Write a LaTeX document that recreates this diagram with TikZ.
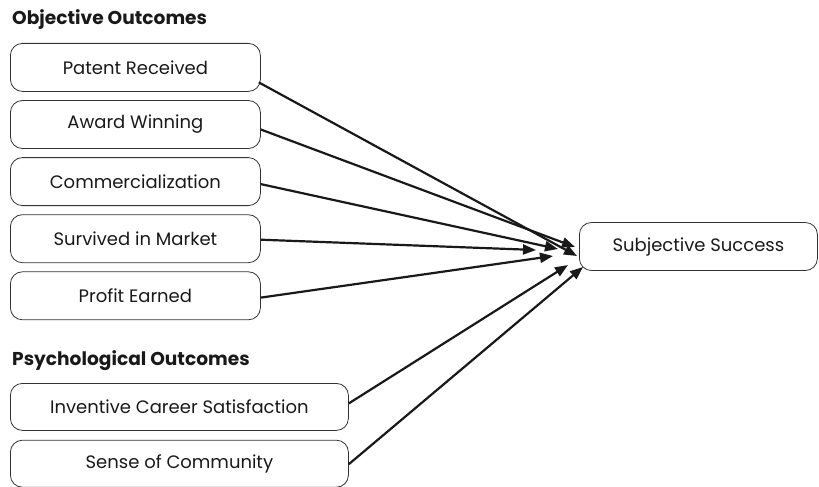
\documentclass[tikz,border=0pt]{standalone}
\usepackage{fontspec}
\setmainfont{Poppins}
\usepackage{tikz}
\usetikzlibrary{positioning, arrows.meta}

\begin{document}
\begin{tikzpicture}[
    node distance=8.3pt,
    outcome/.style={rectangle, rounded corners=12pt, draw=black!80, line width=0.8pt, minimum width=250pt, minimum height=48pt, inner sep=0pt, font=\fontsize{18}{20}\selectfont, text=black!90},
    wide_outcome/.style={outcome, minimum width=338pt, minimum height=47pt},
    target/.style={outcome, minimum width=238pt},
    heading/.style={font=\fontsize{18.6}{20}\selectfont\bfseries, inner sep=0pt, text=black!90},
    arrow_in/.style={-{Triangle[length=13pt, width=10pt]}, line width=2.2pt, color=black!90}
]
\useasboundingbox (0,0) rectangle (819pt,-487pt);

% objective outcomes
\node[heading, anchor=base west] (objhead) at (12pt,-25pt) {Objective Outcomes};
\node[outcome, anchor=north west] (patent) at (10pt,-43pt) {Patent Received};
\node[outcome, below=of patent] (award) {Award Winning};
\node[outcome, below=of award] (comm) {Commercialization};
\node[outcome, below=of comm] (market) {Survived in Market};
\node[outcome, below=of market] (profit) {Profit Earned};

% psychological outcomes
\node[heading, anchor=base west] (psyhead) at (12pt,-365pt) {Psychological Outcomes};
\node[wide_outcome, anchor=north west] (career) at (10pt,-383pt) {Inventive Career Satisfaction};
\node[wide_outcome, below=9pt of career] (community) {Sense of Community};

\node[target, anchor=west] (success) at (579pt,-246.5pt) {Subjective Success};

\draw[arrow_in] ([shift={(-2pt,-15pt)}]patent.east) -- ([shift={(-2pt,-9.5pt)}]success.west);
\draw[arrow_in] ([yshift=-5pt]award.east) -- ([shift={(-4pt,-0.5pt)}]success.west);
\draw[arrow_in] ([yshift=-2.5pt]comm.east) -- ([shift={(-21pt,-2.5pt)}]success.west);
\draw[arrow_in] ([yshift=-1pt]market.east) -- ([shift={(-43pt,-3.5pt)}]success.west);
\draw[arrow_in] ([yshift=-1.8pt]profit.east) -- ([shift={(-26pt,-9.5pt)}]success.west);
\draw[arrow_in] ([yshift=3.5pt]career.east) -- ([shift={(-11pt,-18.5pt)}]success.west);
\draw[arrow_in] ([yshift=-0.5pt]community.east) -- ([shift={(4pt,-20.5pt)}]success.west);

\end{tikzpicture}
\end{document}
